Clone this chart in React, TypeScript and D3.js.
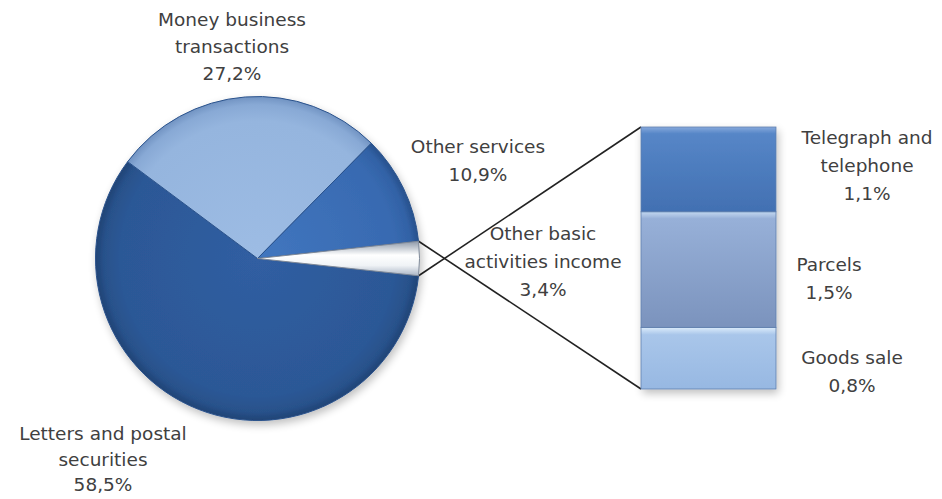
import React from "react";
import * as d3 from "d3";

const pieCategories = ["Letters and postal securities", "Money business transactions", "Other services", "Other basic activities income"];
const pieValues = [58.5, 27.2, 10.9, 3.4];
const pieLabels = ["58,5%", "27,2%", "10,9%", "3,4%"];

const barCategories = ["Goods sale", "Parcels", "Telegraph and telephone"];
const barValues = [0.8, 1.5, 1.1];
const barLabels = ["0,8%", "1,5%", "1,1%"];

const W = 942;
const H = 499;
const cx = 257.5;
const cy = 258.5;
const R = 162;

const sliceFill = ["url(#gLetters)", "url(#gMoney)", "url(#gOther)", "url(#gWhite)"];
const barFill = ["url(#bGoods)", "url(#bParcels)", "url(#bTele)"];

const textColor = "#404040";
const FONT = "'DejaVu Sans', sans-serif";

export default function App() {
  const total = d3.sum(pieValues);
  const half = (pieValues[3] / total) * Math.PI; // half of small slice angle
  const start = Math.PI / 2 + half;
  const pie = d3.pie<number>().sort(null).value((d) => d).startAngle(start).endAngle(start + 2 * Math.PI);
  const arcs = pie(pieValues);
  const arcGen = d3.arc<d3.PieArcDatum<number>>().innerRadius(0).outerRadius(R);

  const small = arcs[3];
  const rel = (a: number) => [R * Math.sin(a), -R * Math.cos(a)];
  const rTop = rel(small.endAngle);
  const rBot = rel(small.startAngle);
  const pTop = [cx + rTop[0], cy + rTop[1]];
  const pBot = [cx + rBot[0], cy + rBot[1]];

  // stacked bar
  const barX0 = 641;
  const barX1 = 776;
  const y = d3.scaleLinear().domain([0, d3.sum(barValues)]).range([389, 127]);
  const stack: { v0: number; v1: number }[] = [];
  let acc = 0;
  barValues.forEach((v) => {
    stack.push({ v0: acc, v1: acc + v });
    acc += v;
  });

  const label = (lines: string[], x: number, y0: number, dy: number, key: string) => (
    <text key={key} x={x} y={y0} textAnchor="middle" fill={textColor} fontFamily={FONT} fontSize={18.5}>
      {lines.map((l, i) => (
        <tspan key={i} x={x} y={y0 + i * dy}>
          {l}
        </tspan>
      ))}
    </text>
  );

  return (
    <svg width={W} height={H} style={{ position: "absolute", left: 0, top: 0, background: "#fff" }}>
      <defs>
        <radialGradient id="gLetters" cx={0} cy={0} r={R} gradientUnits="userSpaceOnUse">
          <stop offset="0" stopColor="#305ea2" />
          <stop offset="0.85" stopColor="#2c5896" />
          <stop offset="0.95" stopColor="#28518a" />
          <stop offset="1" stopColor="#1f4375" />
        </radialGradient>
        <radialGradient id="gMoney" cx={0} cy={0} r={R} gradientUnits="userSpaceOnUse">
          <stop offset="0" stopColor="#9dbce4" />
          <stop offset="0.85" stopColor="#95b5de" />
          <stop offset="0.95" stopColor="#88a9d5" />
          <stop offset="1" stopColor="#7193c2" />
        </radialGradient>
        <radialGradient id="gOther" cx={0} cy={0} r={R} gradientUnits="userSpaceOnUse">
          <stop offset="0" stopColor="#4176bf" />
          <stop offset="0.85" stopColor="#386ab1" />
          <stop offset="0.95" stopColor="#3262a6" />
          <stop offset="1" stopColor="#27508c" />
        </radialGradient>
        <linearGradient id="gWhite" x1="0" y1={rTop[1]} x2="0" y2={rBot[1]} gradientUnits="userSpaceOnUse">
          <stop offset="0" stopColor="#a9b4c4" />
          <stop offset="0.3" stopColor="#f0f3f6" />
          <stop offset="0.6" stopColor="#ffffff" />
          <stop offset="1" stopColor="#8d98a8" />
        </linearGradient>
        <linearGradient id="bTele" x1="0" y1="0" x2="0" y2="1">
          <stop offset="0" stopColor="#86a9dc" />
          <stop offset="0.08" stopColor="#5686c7" />
          <stop offset="1" stopColor="#4270b2" />
        </linearGradient>
        <linearGradient id="bParcels" x1="0" y1="0" x2="0" y2="1">
          <stop offset="0" stopColor="#c3d8f0" />
          <stop offset="0.06" stopColor="#97b0d8" />
          <stop offset="1" stopColor="#7b93bd" />
        </linearGradient>
        <linearGradient id="bGoods" x1="0" y1="0" x2="0" y2="1">
          <stop offset="0" stopColor="#dcecfb" />
          <stop offset="0.12" stopColor="#a9c6ea" />
          <stop offset="1" stopColor="#97b8e2" />
        </linearGradient>
        <filter id="shadow" x="-20%" y="-20%" width="140%" height="140%">
          <feGaussianBlur in="SourceAlpha" stdDeviation="4" />
          <feOffset dx="2" dy="4" result="b" />
          <feComponentTransfer>
            <feFuncA type="linear" slope="0.25" />
          </feComponentTransfer>
          <feMerge>
            <feMergeNode />
            <feMergeNode in="SourceGraphic" />
          </feMerge>
        </filter>
      </defs>

      {/* connector lines */}
      <line x1={pTop[0]} y1={pTop[1]} x2={barX0} y2={y(d3.sum(barValues))} stroke="#222" strokeWidth={1.6} />
      <line x1={pBot[0]} y1={pBot[1]} x2={barX0} y2={y(0)} stroke="#222" strokeWidth={1.6} />

      {/* pie */}
      <g filter="url(#shadow)">
        {arcs.map((a, i) => (
          <path
            key={pieCategories[i]}
            d={arcGen(a) || ""}
            transform={`translate(${cx},${cy})`}
            fill={sliceFill[i]}
            stroke={i === 3 ? "#7d8898" : "#2a528c"}
            strokeWidth={1}
            strokeLinejoin="round"
          />
        ))}
      </g>

      {/* stacked bar */}
      <g filter="url(#shadow)">
        {stack.map((s, i) => (
          <rect
            key={barCategories[i]}
            x={barX0}
            y={y(s.v1)}
            width={barX1 - barX0}
            height={y(s.v0) - y(s.v1)}
            fill={barFill[i]}
            stroke="#5f7fae"
            strokeWidth={0.8}
          />
        ))}
      </g>

      {/* labels */}
      {label(["Money business", "transactions", pieLabels[1]], 232, 26, 27, "money")}
      {label(["Other services", pieLabels[2]], 478, 153, 28, "other")}
      {label(["Other basic", "activities income", pieLabels[3]], 543, 240, 28, "basic")}
      {label(["Letters and postal", "securities", pieLabels[0]], 103, 440, 25.5, "letters")}
      {label(["Telegraph and", "telephone", barLabels[2]], 867, 144, 28, "tele")}
      {label(["Parcels", barLabels[1]], 829, 271, 28, "parcels")}
      {label(["Goods sale", barLabels[0]], 852, 364, 28, "goods")}
    </svg>
  );
}
